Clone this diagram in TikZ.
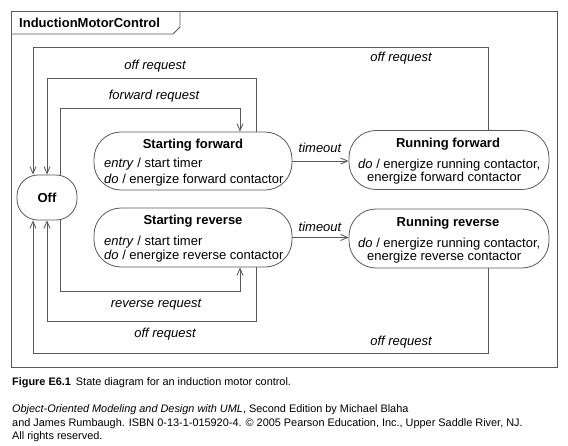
\documentclass[tikz,border=0pt]{standalone}
\usepackage{fontspec}
\setmainfont{Liberation Sans}
\usetikzlibrary{arrows.meta}
\begin{document}
\begin{tikzpicture}[x=1pt,y=-1pt,
  line/.style={draw=black!65,line width=0.8pt},
  arr/.style={line,-{Straight Barb[length=7pt,width=6pt]}},
  statebox/.style={line,rounded corners=27pt,minimum width=198pt,minimum height=58pt,inner sep=0pt},
  lbl/.style={font=\fontsize{13}{15}\selectfont\itshape,inner sep=0pt,text height=9.4pt,text depth=0pt},
  txt/.style={font=\fontsize{13}{15}\selectfont,inner sep=0pt,text height=9.4pt,text depth=0pt,anchor=west},
  ttl/.style={font=\fontsize{13}{15}\selectfont\bfseries,inner sep=0pt,text height=9.4pt,text depth=0pt},
  captxt/.style={font=\fontsize{10.9}{13}\selectfont,inner sep=0pt,anchor=west,text height=7.9pt,text depth=0pt}
]
\fill[white] (0,0) rectangle (568,445);
\useasboundingbox (0,0) rectangle (568,445);

% frame and tab
\draw[line] (11,11) rectangle (557,367);
\draw[line] (11,34) -- (173,34) -- (180,27) -- (180,11);
\node[ttl,anchor=west] (title) at (19,23) {InductionMotorControl};

% states
\node[line,rounded corners=21pt,minimum width=60pt,minimum height=45pt,inner sep=0pt] (Off) at (47,197.5) {};
\node[ttl] (offt) at (47,197.5) {Off};

\node[statebox] (SF) at (193,161) {};
\node[ttl] (sft) at (193,143.3) {Starting forward};
\node[txt] (sfe) at (104,162.7) {\textit{entry} / start timer};
\node[txt] (sfd) at (104,178.3) {\textit{do} / energize forward contactor};

\node[statebox,minimum height=59pt] (SR) at (193,237.5) {};
\node[ttl] (srt) at (193,220) {Starting reverse};
\node[txt] (sre) at (104,240.7) {\textit{entry} / start timer};
\node[txt] (srd) at (104,255) {\textit{do} / energize reverse contactor};

\node[statebox,minimum width=200pt,minimum height=59pt] (RF) at (449,160) {};
\node[ttl] (rft) at (448,142.3) {Running forward};
\node[txt] (rfd) at (358,163.3) {\textit{do} / energize running contactor,};
\node[txt] (rfe) at (367,176.5) {energize forward contactor};

\node[statebox,minimum width=200pt,minimum height=59pt] (RR) at (449,238.5) {};
\node[ttl] (rrt) at (448,221.7) {Running reverse};
\node[txt] (rrd) at (358,242.7) {\textit{do} / energize running contactor,};
\node[txt] (rre) at (367,255.5) {energize reverse contactor};

% transitions
\draw[arr] ([xshift=39pt]RF.north) |- (33,47) -- ([xshift=-14pt]Off.north);
\draw[arr] ([xshift=63pt]SF.north) |- (47,78) -- (Off.north);
\draw[arr] ([xshift=13pt]Off.north) |- (240,108) -- ([xshift=47pt]SF.north);
\draw[arr] ([xshift=13pt]Off.south) |- (240,291) -- ([xshift=47pt]SR.south);
\draw[arr] ([xshift=63pt]SR.south) |- (47,321) -- (Off.south);
\draw[arr] ([xshift=39pt]RR.south) |- (33,353) -- ([xshift=-14pt]Off.south);
\draw[arr] (SF.east) -- (SF.east -| RF.west);
\draw[arr] (SR.east) -- (SR.east -| RR.west);

% labels
\node[lbl] (l1) at (155,65) {off request};
\node[lbl] (l2) at (154,95) {forward request};
\node[lbl] (l3) at (401,57) {off request};
\node[lbl] (l4) at (320,148) {timeout};
\node[lbl] (l5) at (320,227) {timeout};
\node[lbl] (l6) at (156,303) {reverse request};
\node[lbl] (l7) at (165,333) {off request};
\node[lbl] (l8) at (401,341) {off request};

% caption
\node[captxt] (c1) at (12,382) {\textbf{Figure E6.1}\hspace{5pt}State diagram for an induction motor control.};
\node[captxt] (c2) at (12,409) {\textit{Object-Oriented Modeling and Design with UML}, Second Edition by Michael Blaha};
\node[captxt] (c3) at (12,422.5) {and James Rumbaugh. ISBN 0-13-1-015920-4. © 2005 Pearson Education, Inc., Upper Saddle River, NJ.};
\node[captxt] (c4) at (12,436) {All rights reserved.};
\end{tikzpicture}
\end{document}
